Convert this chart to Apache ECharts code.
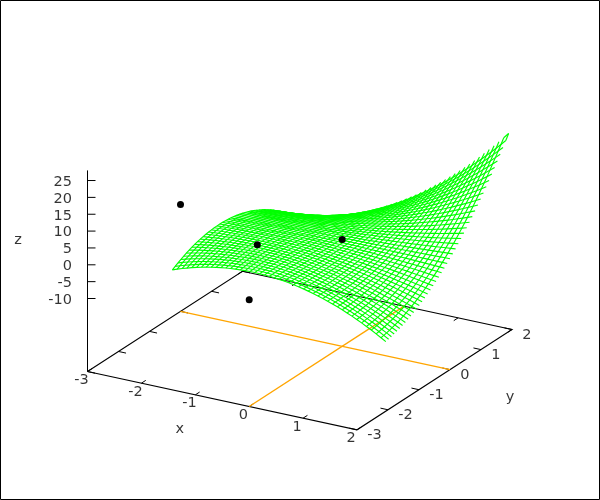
<!DOCTYPE html>
<html><head><meta charset="utf-8">
<style>html,body{margin:0;padding:0;background:#fff}#c{width:600px;height:500px}</style>
<script src="https://cdn.jsdelivr.net/npm/echarts@6/dist/echarts.min.js"></script>
</head><body><div id="c"></div>
<script>
// grid positions of the sampled surface
const gridValues=[-2,-1.91,-1.82,-1.73,-1.64,-1.55,-1.46,-1.37,-1.28,-1.19,-1.1,-1.01,-0.92,-0.83,-0.74,-0.65,-0.56,-0.47,-0.38,-0.29,-0.2,-0.11,-0.02,0.07,0.16,0.25,0.34,0.43,0.52,0.61,0.7,0.79,0.88,0.97,1.06,1.15,1.24,1.33,1.42,1.51,1.6,1.69,1.78,1.87,1.96];
// surface heights: the surface is symmetric, so each row holds the values from the diagonal onward
const zUpper=[
[-4.00,-3.48,-2.98,-2.53,-2.10,-1.71,-1.34,-1.01,-0.72,-0.45,-0.22,-0.02,0.15,0.28,0.38,0.46,0.49,0.50,0.47,0.41,0.32,0.20,0.04,-0.15,-0.37,-0.63,-0.91,-1.23,-1.58,-1.96,-2.38,-2.83,-3.31,-3.82,-4.37,-4.95,-5.56,-6.20,-6.87,-7.58,-8.32,-9.09,-9.90,-10.73,-11.60],
[-2.99,-2.54,-2.11,-1.72,-1.36,-1.03,-0.73,-0.46,-0.23,-0.02,0.15,0.30,0.41,0.49,0.55,0.57,0.56,0.52,0.44,0.34,0.21,0.04,-0.16,-0.38,-0.64,-0.93,-1.25,-1.60,-1.98,-2.39,-2.84,-3.31,-3.82,-4.35,-4.92,-5.52,-6.15,-6.81,-7.50,-8.22,-8.97,-9.76,-10.57,-11.42],
[-2.12,-1.73,-1.37,-1.04,-0.74,-0.47,-0.23,-0.02,0.16,0.31,0.44,0.53,0.59,0.63,0.63,0.61,0.55,0.47,0.36,0.21,0.04,-0.16,-0.39,-0.65,-0.94,-1.26,-1.61,-1.99,-2.40,-2.83,-3.30,-3.80,-4.32,-4.88,-5.46,-6.08,-6.72,-7.39,-8.10,-8.83,-9.59,-10.38,-11.20],
[-1.38,-1.05,-0.75,-0.48,-0.24,-0.02,0.16,0.32,0.45,0.56,0.63,0.68,0.70,0.69,0.65,0.59,0.49,0.37,0.22,0.04,-0.16,-0.40,-0.66,-0.95,-1.26,-1.61,-1.98,-2.39,-2.82,-3.27,-3.76,-4.27,-4.81,-5.38,-5.98,-6.61,-7.26,-7.94,-8.65,-9.39,-10.16,-10.95],
[-0.75,-0.48,-0.24,-0.02,0.17,0.33,0.47,0.58,0.66,0.72,0.75,0.76,0.73,0.69,0.61,0.51,0.38,0.23,0.04,-0.16,-0.40,-0.66,-0.95,-1.26,-1.60,-1.97,-2.36,-2.79,-3.23,-3.71,-4.21,-4.73,-5.29,-5.87,-6.47,-7.11,-7.77,-8.45,-9.17,-9.91,-10.67],
[-0.24,-0.02,0.17,0.34,0.48,0.60,0.69,0.76,0.80,0.81,0.81,0.77,0.71,0.63,0.52,0.39,0.23,0.04,-0.16,-0.40,-0.66,-0.94,-1.25,-1.59,-1.95,-2.33,-2.74,-3.18,-3.64,-4.12,-4.63,-5.17,-5.73,-6.32,-6.93,-7.56,-8.23,-8.91,-9.62,-10.36],
[0.17,0.34,0.49,0.61,0.71,0.78,0.83,0.86,0.86,0.84,0.80,0.73,0.64,0.53,0.39,0.23,0.04,-0.16,-0.40,-0.65,-0.93,-1.24,-1.56,-1.91,-2.29,-2.69,-3.11,-3.55,-4.02,-4.52,-5.03,-5.57,-6.14,-6.72,-7.34,-7.97,-8.63,-9.31,-10.02],
[0.49,0.61,0.72,0.80,0.86,0.89,0.91,0.90,0.87,0.82,0.75,0.65,0.53,0.39,0.23,0.04,-0.16,-0.39,-0.64,-0.92,-1.21,-1.53,-1.87,-2.23,-2.62,-3.03,-3.46,-3.91,-4.38,-4.88,-5.39,-5.93,-6.50,-7.08,-7.69,-8.32,-8.97,-9.64],
[0.72,0.81,0.87,0.92,0.94,0.95,0.93,0.89,0.83,0.75,0.65,0.53,0.39,0.23,0.04,-0.16,-0.39,-0.63,-0.90,-1.18,-1.49,-1.82,-2.17,-2.54,-2.93,-3.34,-3.77,-4.22,-4.70,-5.19,-5.71,-6.24,-6.80,-7.38,-7.97,-8.59,-9.23],
[0.88,0.93,0.96,0.97,0.97,0.94,0.90,0.83,0.75,0.65,0.52,0.38,0.22,0.04,-0.16,-0.38,-0.61,-0.87,-1.15,-1.44,-1.76,-2.09,-2.44,-2.82,-3.21,-3.62,-4.05,-4.50,-4.97,-5.46,-5.97,-6.49,-7.04,-7.60,-8.19,-8.79],
[0.97,0.99,0.99,0.98,0.94,0.89,0.83,0.74,0.64,0.51,0.37,0.22,0.04,-0.15,-0.36,-0.59,-0.84,-1.10,-1.38,-1.68,-2.00,-2.34,-2.69,-3.06,-3.45,-3.86,-4.28,-4.73,-5.19,-5.66,-6.16,-6.67,-7.21,-7.75,-8.32],
[1.00,0.99,0.97,0.93,0.88,0.81,0.72,0.62,0.50,0.36,0.21,0.04,-0.15,-0.35,-0.57,-0.80,-1.05,-1.32,-1.60,-1.90,-2.22,-2.55,-2.90,-3.27,-3.65,-4.05,-4.46,-4.89,-5.34,-5.80,-6.28,-6.78,-7.29,-7.82],
[0.98,0.95,0.91,0.86,0.78,0.70,0.59,0.48,0.35,0.20,0.04,-0.14,-0.33,-0.54,-0.76,-0.99,-1.24,-1.51,-1.79,-2.09,-2.40,-2.72,-3.06,-3.42,-3.79,-4.17,-4.57,-4.99,-5.42,-5.86,-6.32,-6.80,-7.28],
[0.92,0.88,0.82,0.75,0.66,0.56,0.45,0.33,0.19,0.04,-0.13,-0.31,-0.50,-0.71,-0.93,-1.16,-1.41,-1.67,-1.94,-2.23,-2.53,-2.84,-3.17,-3.51,-3.86,-4.23,-4.61,-5.01,-5.41,-5.84,-6.27,-6.72],
[0.83,0.77,0.70,0.62,0.53,0.42,0.30,0.18,0.03,-0.12,-0.29,-0.46,-0.65,-0.86,-1.07,-1.30,-1.53,-1.78,-2.04,-2.32,-2.60,-2.90,-3.21,-3.53,-3.87,-4.21,-4.57,-4.94,-5.32,-5.72,-6.12],
[0.72,0.65,0.57,0.49,0.39,0.28,0.16,0.03,-0.11,-0.26,-0.42,-0.59,-0.78,-0.97,-1.17,-1.39,-1.61,-1.85,-2.09,-2.35,-2.62,-2.89,-3.18,-3.48,-3.79,-4.11,-4.44,-4.78,-5.13,-5.49],
[0.59,0.52,0.44,0.35,0.25,0.14,0.03,-0.10,-0.23,-0.38,-0.53,-0.69,-0.86,-1.04,-1.23,-1.43,-1.64,-1.85,-2.08,-2.31,-2.56,-2.81,-3.07,-3.34,-3.62,-3.91,-4.21,-4.51,-4.83],
[0.46,0.38,0.31,0.22,0.13,0.02,-0.09,-0.20,-0.33,-0.46,-0.60,-0.75,-0.90,-1.06,-1.23,-1.41,-1.60,-1.79,-1.99,-2.20,-2.41,-2.64,-2.87,-3.11,-3.35,-3.61,-3.87,-4.14],
[0.32,0.26,0.18,0.10,0.02,-0.07,-0.17,-0.27,-0.38,-0.50,-0.62,-0.75,-0.88,-1.02,-1.17,-1.32,-1.48,-1.65,-1.82,-2.00,-2.18,-2.37,-2.57,-2.77,-2.98,-3.19,-3.41],
[0.20,0.15,0.08,0.02,-0.06,-0.13,-0.21,-0.30,-0.39,-0.49,-0.59,-0.69,-0.80,-0.92,-1.04,-1.16,-1.29,-1.42,-1.56,-1.70,-1.85,-2.00,-2.16,-2.32,-2.48,-2.65],
[0.10,0.06,0.01,-0.04,-0.09,-0.15,-0.21,-0.28,-0.35,-0.42,-0.49,-0.57,-0.65,-0.73,-0.82,-0.91,-1.00,-1.10,-1.20,-1.30,-1.41,-1.52,-1.63,-1.75,-1.87],
[0.03,0.01,-0.02,-0.05,-0.09,-0.12,-0.16,-0.20,-0.23,-0.28,-0.32,-0.36,-0.41,-0.46,-0.51,-0.56,-0.62,-0.67,-0.73,-0.79,-0.85,-0.91,-0.98,-1.05],
[0,0,-0.01,-0.02,-0.02,-0.03,-0.04,-0.04,-0.05,-0.06,-0.07,-0.08,-0.09,-0.10,-0.10,-0.11,-0.12,-0.14,-0.15,-0.16,-0.17,-0.18,-0.19],
[0.02,0.04,0.06,0.08,0.11,0.13,0.16,0.18,0.21,0.24,0.27,0.31,0.34,0.37,0.41,0.45,0.48,0.52,0.56,0.60,0.65,0.69],
[0.08,0.14,0.19,0.25,0.31,0.37,0.43,0.50,0.57,0.64,0.72,0.79,0.87,0.96,1.04,1.13,1.22,1.31,1.41,1.50,1.61],
[0.22,0.31,0.40,0.49,0.59,0.69,0.80,0.91,1.02,1.14,1.27,1.39,1.52,1.66,1.80,1.94,2.09,2.24,2.39,2.55],
[0.43,0.55,0.68,0.82,0.96,1.11,1.26,1.42,1.59,1.76,1.93,2.11,2.30,2.49,2.69,2.89,3.10,3.31,3.53],
[0.71,0.88,1.06,1.24,1.43,1.63,1.84,2.05,2.26,2.49,2.72,2.96,3.21,3.46,3.72,3.99,4.26,4.54],
[1.09,1.31,1.54,1.77,2.01,2.26,2.52,2.79,3.07,3.35,3.65,3.95,4.26,4.58,4.91,5.24,5.59],
[1.57,1.84,2.12,2.41,2.71,3.02,3.34,3.67,4.01,4.36,4.72,5.08,5.46,5.85,6.25,6.66],
[2.16,2.48,2.82,3.17,3.53,3.90,4.29,4.68,5.09,5.51,5.94,6.38,6.83,7.29,7.77],
[2.86,3.25,3.65,4.06,4.49,4.93,5.38,5.84,6.32,6.81,7.32,7.83,8.36,8.90],
[3.69,4.14,4.61,5.09,5.59,6.10,6.62,7.16,7.72,8.28,8.87,9.46,10.07],
[4.65,5.17,5.71,6.27,6.84,7.42,8.03,8.64,9.28,9.93,10.59,11.27],
[5.75,6.35,6.97,7.60,8.25,8.92,9.60,10.30,11.02,11.75,12.51],
[7.01,7.69,8.38,9.10,9.83,10.58,11.35,12.14,12.95,13.77],
[8.43,9.19,9.97,10.77,11.59,12.43,13.29,14.17,15.07],
[10.01,10.86,11.73,12.62,13.53,14.46,15.42,16.40],
[11.78,12.72,13.68,14.66,15.67,16.70,17.76],
[13.73,14.76,15.82,16.91,18.02,19.15],
[15.87,17.01,18.17,19.36,20.57],
[18.22,19.46,20.73,22.03],
[20.78,22.14,23.51],
[23.57,25.03],
[26.58]];
const points=[[-3,0,0],[0,0,0],[-1,-1,1],[0,-3,0]];
const xTicks=[-3,-2,-1,0,1,2];
const yTicks=[-3,-2,-1,0,1,2];
const zTicks=[-10,-5,0,5,10,15,20,25];
const xMin=-3,xMax=2,yMin=-3,yMax=2,zBase=-31.66,zTop=28;

const zAt=(i,j)=>i<=j?zUpper[i][j-i]:zUpper[j][i-j];
// 3D view: maps (x,y,z) onto the hidden 2D value axes
const project=(x,y,z)=>[53.9*x+31*y,-(11.66*x-20.06*y-3.371*z)];
const lineS=(data,color,width,z)=>({type:'line',data,showSymbol:false,symbol:'none',silent:true,animation:false,clip:false,z,
  lineStyle:{color,width,cap:'butt',join:'miter'}});
const series=[];
const seg=(a,b,color,w)=>series.push(lineS([project(...a),project(...b)],color,w,2));

// base frame and z axis
series.push(lineS([[xMin,yMin],[xMax,yMin],[xMax,yMax],[xMin,yMax],[xMin,yMin]].map(p=>project(p[0],p[1],zBase)),'#000',1.1,2));
seg([xMin,yMin,zBase],[xMin,yMin,zTop],'#000',1);
// ticks
const tl=0.14;
xTicks.forEach(t=>{seg([t,yMin,zBase],[t,yMin+tl,zBase],'#000',1);seg([t,yMax,zBase],[t,yMax-tl,zBase],'#000',1);});
yTicks.forEach(t=>{seg([xMax,t,zBase],[xMax-tl,t,zBase],'#000',1);seg([xMin,t,zBase],[xMin+tl,t,zBase],'#000',1);});
zTicks.forEach(t=>{const p=project(xMin,yMin,t);series.push(lineS([p,[p[0]+8,p[1]]],'#000',1,2));});
// zero lines on the base
seg([0,yMin,zBase],[0,yMax,zBase],'#ffa500',1.4);
seg([xMin,0,zBase],[xMax,0,zBase],'#ffa500',1.4);
// mesh: the far outer rows only show their last step, leaving the other lines' ends free
const last=gridValues.length-1;
gridValues.forEach((gx,i)=>{
  const from=i===last?last-1:0;
  const xLine=gridValues.map((gy,j)=>project(gx,gy,zAt(i,j))).slice(from);
  const yLine=gridValues.map((gy,j)=>project(gy,gx,zAt(j,i))).slice(from);
  series.push(lineS(xLine,'#00ff00',1.15,5));
  series.push(lineS(yLine,'#00ff00',1.15,5));
});
// points
series.push({type:'scatter',data:points.map(p=>project(...p)),symbol:'circle',symbolSize:7,silent:true,animation:false,clip:false,z:8,itemStyle:{color:'#000',opacity:1}});
// text
const font={color:'#000',fontFamily:'DejaVu Sans',fontSize:14.5,show:true,position:'inside',verticalAlign:'middle'};
const textS=[];
const txt=(p,s,align,dx,dy)=>textS.push({value:p,label:{...font,formatter:String(s),align,offset:[dx,dy]}});
xTicks.forEach(t=>txt(project(t,yMin,zBase),t,'center',-5.9,8.6));
yTicks.forEach(t=>txt(project(xMax,t,zBase),t,'left',10.3,5.6));
zTicks.forEach(t=>txt(project(xMin,yMin,t),t,'right',-15.5,1.5));
txt(project(-0.5,yMin,zBase),'x','center',-42.5,28.5);
txt(project(xMax,-0.5,zBase),'y','center',75.5,17.5);
txt(project(xMin,yMin,7.5),'z','center',-69.5,0.5);
series.push({type:'scatter',data:textS,symbolSize:1,silent:true,animation:false,clip:false,z:9,itemStyle:{color:'transparent'}});

const chart=echarts.init(document.getElementById('c'),null,{renderer:'canvas',width:600,height:500});
chart.setOption({
  animation:false,backgroundColor:'#fff',
  grid:{left:0,right:0,top:0,bottom:0},
  xAxis:{type:'value',show:false,min:-342.2,max:257.8},
  yAxis:{type:'value',show:false,min:-260.4,max:239.6},
  graphic:[{type:'rect',shape:{x:0.5,y:0.5,width:599,height:499},style:{fill:null,stroke:'#000',lineWidth:1},silent:true,z:20}],
  series
});
</script></body></html>
